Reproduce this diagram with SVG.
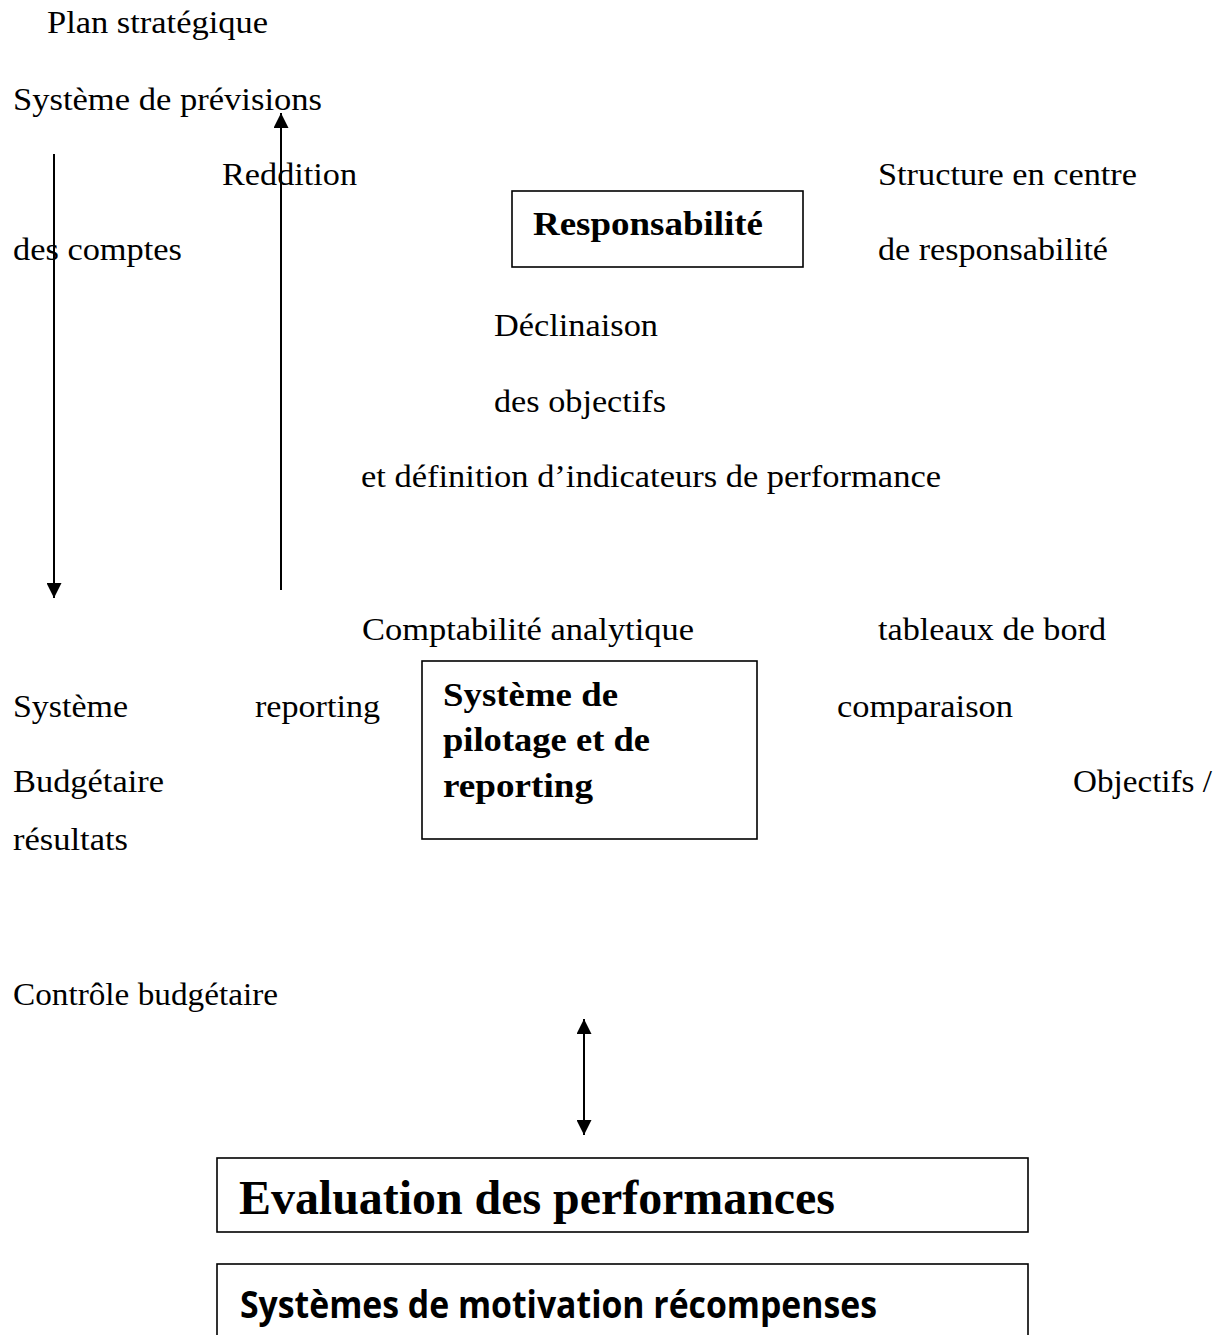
<svg xmlns="http://www.w3.org/2000/svg" width="1231" height="1335" viewBox="0 0 1231 1335">
  <style>
    text { font-family: "Liberation Serif", "Times New Roman", serif; font-size: 31px; fill: #000; }
    .b { font-weight: bold; font-size: 33px; }
    .big { font-weight: bold; font-size: 48px; }
    .sans { font-family: "Open Sans", "Liberation Sans", sans-serif; font-weight: bold; font-size: 38px; }
    .box { fill: #fff; stroke: #000; stroke-width: 1.6; }
    .conn { stroke: #000; stroke-width: 2; fill: none; }
  </style>
  <defs>
    <marker id="head" viewBox="0 0 10 10" refX="10" refY="5" markerWidth="16" markerHeight="15" markerUnits="userSpaceOnUse" orient="auto-start-reverse">
      <path d="M0,0 L10,5 L0,10 z" fill="#000"/>
    </marker>
  </defs>

  <rect width="1231" height="1335" fill="#fff"/>

  <!-- free labels -->
  <g id="labels">
    <text x="47" y="33" textLength="221" lengthAdjust="spacingAndGlyphs">Plan stratégique</text>
    <text x="13" y="110" textLength="309" lengthAdjust="spacingAndGlyphs">Système de prévisions</text>
    <text x="222" y="185" textLength="135" lengthAdjust="spacingAndGlyphs">Reddition</text>
    <text x="13" y="260" textLength="169" lengthAdjust="spacingAndGlyphs">des comptes</text>
    <text x="878" y="185" textLength="259" lengthAdjust="spacingAndGlyphs">Structure en centre</text>
    <text x="878" y="260" textLength="230" lengthAdjust="spacingAndGlyphs">de responsabilité</text>
    <text x="494" y="336" textLength="164" lengthAdjust="spacingAndGlyphs">Déclinaison</text>
    <text x="494" y="412" textLength="172" lengthAdjust="spacingAndGlyphs">des objectifs</text>
    <text x="361" y="487" textLength="580" lengthAdjust="spacingAndGlyphs">et définition d’indicateurs de performance</text>
    <text x="362" y="640" textLength="332" lengthAdjust="spacingAndGlyphs">Comptabilité analytique</text>
    <text x="878" y="640" textLength="228" lengthAdjust="spacingAndGlyphs">tableaux de bord</text>
    <text x="13" y="717" textLength="115" lengthAdjust="spacingAndGlyphs">Système</text>
    <text x="255" y="717" textLength="125" lengthAdjust="spacingAndGlyphs">reporting</text>
    <text x="837" y="717" textLength="176" lengthAdjust="spacingAndGlyphs">comparaison</text>
    <text x="13" y="792" textLength="151" lengthAdjust="spacingAndGlyphs">Budgétaire</text>
    <text x="1073" y="792" textLength="139" lengthAdjust="spacingAndGlyphs">Objectifs /</text>
    <text x="13" y="850" textLength="115" lengthAdjust="spacingAndGlyphs">résultats</text>
    <text x="13" y="1005" textLength="265" lengthAdjust="spacingAndGlyphs">Contrôle budgétaire</text>
  </g>

  <!-- nodes -->
  <g id="responsabilite">
    <rect class="box" x="512" y="191" width="291" height="76"/>
    <text class="b" x="533" y="235" textLength="230" lengthAdjust="spacingAndGlyphs">Responsabilité</text>
  </g>

  <g id="pilotage">
    <rect class="box" x="422" y="661" width="335" height="178"/>
    <text class="b" x="443" y="706" textLength="175" lengthAdjust="spacingAndGlyphs">Système de</text>
    <text class="b" x="443" y="751" textLength="207" lengthAdjust="spacingAndGlyphs">pilotage et de</text>
    <text class="b" x="443" y="797" textLength="150" lengthAdjust="spacingAndGlyphs">reporting</text>
  </g>

  <g id="evaluation">
    <rect class="box" x="217" y="1158" width="811" height="74"/>
    <text class="big" x="239" y="1214" textLength="596" lengthAdjust="spacingAndGlyphs">Evaluation des performances</text>
  </g>

  <g id="motivation">
    <rect class="box" x="217" y="1264" width="811" height="90"/>
    <text class="sans" x="240" y="1318" textLength="637" lengthAdjust="spacingAndGlyphs">Systèmes de motivation récompenses</text>
  </g>

  <!-- connectors -->
  <g id="connectors">
    <line class="conn" x1="54" y1="154" x2="54" y2="598" marker-end="url(#head)"/>
    <line class="conn" x1="281" y1="590" x2="281" y2="113" marker-end="url(#head)"/>
    <line class="conn" x1="584" y1="1019" x2="584" y2="1135" marker-start="url(#head)" marker-end="url(#head)"/>
  </g>
</svg>
